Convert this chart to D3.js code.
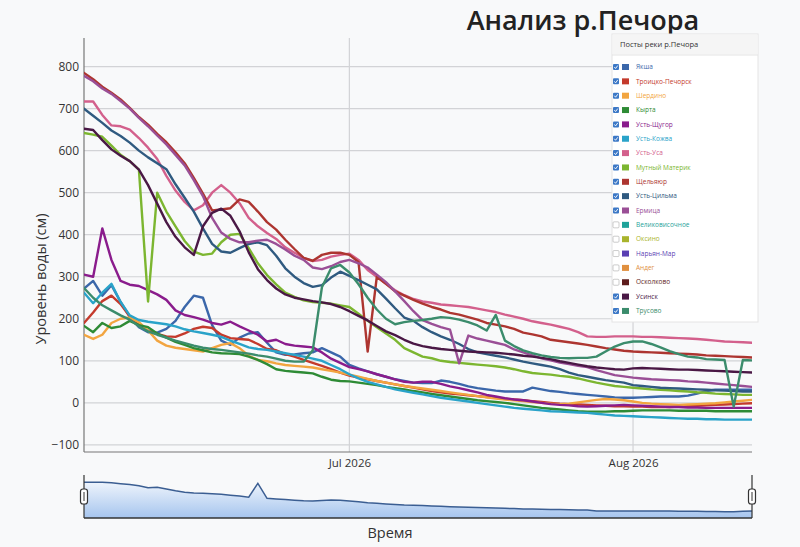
<!DOCTYPE html>
<html>
<head>
<meta charset="utf-8">
<script src="https://cdn.jsdelivr.net/npm/d3@7"></script>
<style>
html,body{margin:0;padding:0;background:#f8f9fa;}
svg{display:block;font-family:"Open Sans","Noto Sans",sans-serif;}
</style>
</head>
<body>
<svg id="chart" width="800" height="547"></svg>
<script>
// ---------- DATA ----------
const titleText = "Анализ р.Печора";
const yAxisTitle = "Уровень воды (см)";
const xAxisTitle = "Время";
const legendTitle = "Посты реки р.Печора";
const startDate = new Date(2026, 5, 2);   // 2 Jun 2026
const endDate = new Date(2026, 7, 14);    // 14 Aug 2026
const dates = d3.timeDays(startDate, d3.timeDay.offset(endDate, 1)); // daily observations
const yTickValues = [-100, 0, 100, 200, 300, 400, 500, 600, 700, 800];

const stationNames = ["Якша","Троицко-Печорск","Шердино","Кырта","Усть-Щугор","Усть-Кожва","Усть-Уса",
  "Мутный Материк","Щельяюр","Усть-Цильма","Ермица","Великовисочное","Оксино","Нарьян-Мар","Андег",
  "Осколково","Усинск","Трусово"];
const stationColors = ["#3b67aa","#c43a2c","#f2a540","#2e8b35","#8a1c8c","#2aa3c9","#d3608c",
  "#7cb630","#ad3530","#2f5a80","#9a4f96","#1fa39a","#a9b42c","#5a3fb3","#e0903f",
  "#5e1c1c","#4a1845","#3b8c6c"];
const stationShown = [true,true,true,true,true,true,true,true,true,true,true,false,false,false,false,false,true,true];

const yakshaValues = [272,290,255,280,240,205,180,168,167,176, 195,228,255,250,185,148,138,155,165,168,
  143,120,114,115,118,120,130,120,110,90, 82,75,68,62,56,52,48,47,47,53, 50,45,39,35,32,29,27,27,27,36,
  32,28,26,23,21,19,17,15,13,12, 12,13,14,15,15,15,17,22,28,31, 31,31,31,31];
const troitskoValues = [190,215,242,255,235,205,185,172,164,158, 157,165,176,181,178,162,154,152,150,140,
  128,125,116,110,102,95,88,80,72,65, 60,56,52,48,44,40,36,32,28,25, 22,20,18,16,14,12,10,8,6,4,
  2,0,-2,-3,-4,-5,-6,-7,-8,-8, -9,-9,-10,-10,-10,-9,-8,-7,-6,-5, -4,-3,-2,-1];
const sherdinoValues = [162,152,162,190,200,203,192,172,148,136, 131,128,125,122,130,138,142,130,112,102,
  99,94,90,88,86,84,80,76,72,67, 62,57,52,48,44,40,37,34,31,28, 25,22,19,16,13,10,8,6,4,2,
  0,-2,-3,-2,1,4,7,9,8,6, 3,0,-2,-3,-4,-5,-4,-3,-2,-1, 1,3,5,7];
const kyrtaValues = [183,168,190,178,182,195,185,180,165,155, 145,138,130,125,120,118,117,116,110,102,
  92,80,76,74,72,70,62,55,52,51, 48,45,42,38,35,32,28,25,21,18, 15,12,9,6,4,2,0,-3,-6,-9,
  -12,-14,-16,-18,-20,-21,-21,-21,-20,-20, -19,-18,-18,-18,-18,-19,-19,-19,-19,-20, -20,-20,-20,-20];
const ustShchugorValues = [305,300,415,340,290,281,278,268,258,245, 220,209,204,198,190,186,193,182,172,162,
  146,150,140,136,134,132,120,105,95,85, 80,75,68,62,56,50,48,50,50,45, 39,35,30,25,19,15,11,8,6,3,
  0,-3,-5,-6,-8,-9,-8,-7,-6,-5, -6,-7,-8,-9,-10,-10,-11,-11,-12,-12, -12,-12,-12,-12];
const ustKozhvaValues = [262,237,262,283,240,208,197,193,190,187, 182,175,170,166,162,157,148,140,132,128,
  126,122,118,114,110,105,100,90,80,68, 58,50,44,38,32,28,24,20,16,12, 9,6,3,0,-3,-6,-9,-12,-14,-16,
  -18,-20,-21,-22,-23,-24,-26,-28,-30,-31, -32,-33,-34,-35,-36,-37,-38,-38,-39,-39, -40,-40,-40,-40];
const ustUsaValues = [717,717,685,660,658,650,630,607,580,540, 505,478,458,470,500,518,500,475,440,420,
  404,390,370,357,345,337,340,348,352,355, 340,316,300,283,268,256,247,241,238,234, 232,230,228,224,220,216,210,205,200,194,
  190,186,181,176,168,158,157,157,158,158, 158,157,157,156,155,154,153,152,150,148, 146,145,144,143];
const mutnyValues = [642,638,633,612,590,575,555,241,500,455, 420,385,360,352,355,382,400,402,368,332,
  304,282,262,252,244,240,238,236,232,228, 212,195,180,165,150,130,120,110,106,100, 97,95,93,91,89,87,84,80,75,71,
  69,67,64,62,58,53,48,44,40,38, 36,34,32,31,30,28,27,25,24,22, 21,20,19,19];
const shchelyayurValues = [785,770,752,738,722,702,680,662,640,620, 596,570,535,498,458,460,463,484,478,455,
  430,412,388,366,345,338,352,357,357,352, 335,122,300,283,265,255,245,236,228,222, 214,210,204,198,190,186,182,176,167,163,
  158,150,147,144,141,138,134,130,127,124, 122,121,120,119,118,117,116,115,113,112, 111,110,109,108];
const ustTsilmaValues = [700,683,666,648,635,619,600,584,570,556, 520,488,455,415,378,360,357,368,378,382,
  375,350,320,300,285,276,280,298,312,302, 292,281,270,248,225,203,195,180,168,158, 150,140,128,120,116,112,108,103,98,94,
  90,86,80,72,66,62,58,54,51,48, 42,40,38,36,35,34,33,32,31,30, 29,28,27,27];
const ermitsaValues = [778,765,748,735,718,700,678,658,636,615, 590,565,530,492,440,405,390,382,382,386,
  388,378,365,350,340,322,318,325,335,340, 332,322,305,287,265,242,218,197,188,180, 174,94,160,153,148,143,138,127,120,113,
  106,101,96,92,88,85,78,72,66,63, 60,58,56,55,54,53,51,50,48,46, 44,42,40,38];
const usinskValues = [652,649,625,603,588,575,555,518,474,430, 395,370,352,420,452,462,445,408,358,318,
  292,272,258,250,246,242,239,235,228,218, 207,196,183,170,161,150,141,135,131,128, 126,124,122,121,120,119,117,115,112,110,
  107,104,99,95,91,87,84,82,80,79, 82,83,82,81,80,79,79,78,77,76, 75,74,73,72];
const trusovoValues = [273,250,232,220,208,198,182,170,162,155, 148,142,136,131,128,126,123,120,117,113,
  110,105,100,98,98,125,275,320,328,310, 282,250,222,200,187,192,195,197,200,204, 202,198,192,184,172,209,148,135,125,118,
  113,109,107,106,107,107,110,122,134,142, 146,146,140,132,123,116,110,108,104,103, 102,-9,102,101];
// overview (navigator) series
const overviewValues = [701,701,700,690,670,648,620,575,585,545, 505,475,458,448,438,426,405,385,360,678,
  335,320,305,290,278,272,285,295,292,272, 255,233,220,205,192,181,175,168,160,150, 142,136,130,124,118,112,105,98,92,88,
  84,80,76,72,68,64,45,44,43,43, 43,43,43,42,41,40,38,36,34,32, 29,27,35,43];

const seriesValues = {
  "Якша": yakshaValues, "Троицко-Печорск": troitskoValues, "Шердино": sherdinoValues, "Кырта": kyrtaValues,
  "Усть-Щугор": ustShchugorValues, "Усть-Кожва": ustKozhvaValues, "Усть-Уса": ustUsaValues,
  "Мутный Материк": mutnyValues, "Щельяюр": shchelyayurValues, "Усть-Цильма": ustTsilmaValues,
  "Ермица": ermitsaValues, "Усинск": usinskValues, "Трусово": trusovoValues
};

// ---------- LAYOUT ----------
const svg = d3.select("#chart");
const L = 84, R = 752, T = 38, B = 452;
const yMin = -117, yMax = 868;
const x = d3.scaleTime().domain([startDate, endDate]).range([L, R]);
const y = d3.scaleLinear().domain([yMin, yMax]).range([B, T]);

// title
svg.append("text").attr("x", 583).attr("y", 30).attr("text-anchor", "middle")
  .attr("font-size", 27).attr("font-weight", 600).attr("fill", "#222").text(titleText);

// grid
const grid = svg.append("g");
grid.selectAll("line.h").data(yTickValues).join("line")
  .attr("x1", L).attr("x2", R).attr("y1", d => y(d)).attr("y2", d => y(d))
  .attr("stroke", "#d2d3d6").attr("stroke-width", 1.2);
const monthTicks = x.ticks(d3.timeMonth.every(1));
grid.selectAll("line.v").data(monthTicks).join("line")
  .attr("x1", d => x(d)).attr("x2", d => x(d)).attr("y1", T).attr("y2", B)
  .attr("stroke", "#d2d3d6").attr("stroke-width", 1.2);

// axes
const yAxis = svg.append("g").attr("transform", `translate(${L},0)`)
  .call(d3.axisLeft(y).tickValues(yTickValues).tickSize(0).tickPadding(5));
yAxis.select(".domain").remove();
yAxis.selectAll("text").attr("font-size", 12).attr("fill", "#333").attr("font-family", "Open Sans, sans-serif");
svg.append("line").attr("x1", L).attr("x2", L).attr("y1", T).attr("y2", B).attr("stroke", "#777").attr("stroke-width", 1.2);

const xAxis = svg.append("g").attr("transform", `translate(0,${B})`)
  .call(d3.axisBottom(x).ticks(d3.timeMonth.every(1)).tickFormat(d3.timeFormat("%b %Y")).tickSize(0).tickPadding(7));
xAxis.select(".domain").remove();
xAxis.selectAll("text").attr("font-size", 11.5).attr("fill", "#333").attr("font-family", "Open Sans, sans-serif");
svg.append("line").attr("x1", L).attr("x2", R).attr("y1", B).attr("y2", B).attr("stroke", "#777").attr("stroke-width", 1.2);

svg.append("text").attr("transform", "translate(46,279) rotate(-90)").attr("text-anchor", "middle")
  .attr("font-size", 14.5).attr("fill", "#333").text(yAxisTitle);

// lines
svg.append("defs").append("clipPath").attr("id", "plotclip").append("rect")
  .attr("x", L).attr("y", T).attr("width", R - L).attr("height", B - T);
const line = d3.line().x((d, i) => x(dates[i])).y(d => y(d));
const lineG = svg.append("g").attr("clip-path", "url(#plotclip)");
stationNames.forEach((name, i) => {
  if (!stationShown[i] || !seriesValues[name]) return;
  lineG.append("path").datum(seriesValues[name])
    .attr("d", line).attr("fill", "none").attr("stroke", stationColors[i])
    .attr("stroke-width", 2.4).attr("stroke-linejoin", "round").attr("stroke-linecap", "round");
});

// navigator
const nT = 475, nB = 518;
const yN = d3.scaleLinear().domain([yMin, yMax]).range([nB, nT]);
const grad = svg.select("defs").append("linearGradient").attr("id", "navgrad")
  .attr("x1", 0).attr("y1", 0).attr("x2", 0).attr("y2", 1);
grad.append("stop").attr("offset", "0%").attr("stop-color", "#eef4fc");
grad.append("stop").attr("offset", "100%").attr("stop-color", "#a6c5ee");
const area = d3.area().x((d, i) => x(dates[i])).y0(nB).y1(d => yN(d));
svg.append("path").datum(overviewValues).attr("d", area).attr("fill", "url(#navgrad)");
svg.append("path").datum(overviewValues).attr("d", d3.line().x((d, i) => x(dates[i])).y(d => yN(d)))
  .attr("fill", "none").attr("stroke", "#3b5e92").attr("stroke-width", 1.5);
svg.append("line").attr("x1", L).attr("x2", R).attr("y1", nB).attr("y2", nB).attr("stroke", "#333").attr("stroke-width", 1.5);
[L, R].forEach(hx => {
  svg.append("line").attr("x1", hx).attr("x2", hx).attr("y1", nT).attr("y2", nB).attr("stroke", "#333").attr("stroke-width", 1.2);
  svg.append("rect").attr("x", hx - 3.5).attr("y", 489).attr("width", 7).attr("height", 15).attr("rx", 2.5)
    .attr("fill", "#fff").attr("stroke", "#333").attr("stroke-width", 1.2);
  svg.append("line").attr("x1", hx).attr("x2", hx).attr("y1", 492).attr("y2", 501).attr("stroke", "#333").attr("stroke-width", 1);
});
svg.append("text").attr("x", 390).attr("y", 538).attr("text-anchor", "middle")
  .attr("font-size", 14.5).attr("fill", "#333").text(xAxisTitle);

// legend
const lg = svg.append("g");
lg.append("rect").attr("x", 612).attr("y", 34).attr("width", 146).attr("height", 288)
  .attr("fill", "#fff").attr("stroke", "#e4e4e4");
lg.append("rect").attr("x", 612.5).attr("y", 34.5).attr("width", 145).attr("height", 20).attr("fill", "#f5f5f5");
lg.append("line").attr("x1", 612).attr("x2", 758).attr("y1", 55).attr("y2", 55).attr("stroke", "#e4e4e4");
lg.append("text").attr("x", 620).attr("y", 46.5).attr("font-size", 7.5).attr("fill", "#333").text(legendTitle);
stationNames.forEach((name, i) => {
  const cy = 67 + i * 14.35;
  const g = lg.append("g");
  if (stationShown[i]) {
    g.append("rect").attr("x", 613).attr("y", cy - 3).attr("width", 6).attr("height", 6).attr("rx", 1).attr("fill", "#3c78c6");
    g.append("path").attr("d", `M${614.3},${cy} L${615.6},${cy + 1.5} L${617.8},${cy - 1.5}`)
      .attr("fill", "none").attr("stroke", "#fff").attr("stroke-width", 0.9);
  } else {
    g.append("rect").attr("x", 613).attr("y", cy - 3).attr("width", 6).attr("height", 6).attr("rx", 1)
      .attr("fill", "#fff").attr("stroke", "#aaa").attr("stroke-width", 0.6);
  }
  g.append("rect").attr("x", 622).attr("y", cy - 3).attr("width", 7).attr("height", 6).attr("fill", stationColors[i]);
  g.append("text").attr("x", 636).attr("y", cy + 2.2).attr("font-size", 6.5).attr("fill", stationColors[i]).text(name);
});
</script>
</body>
</html>
